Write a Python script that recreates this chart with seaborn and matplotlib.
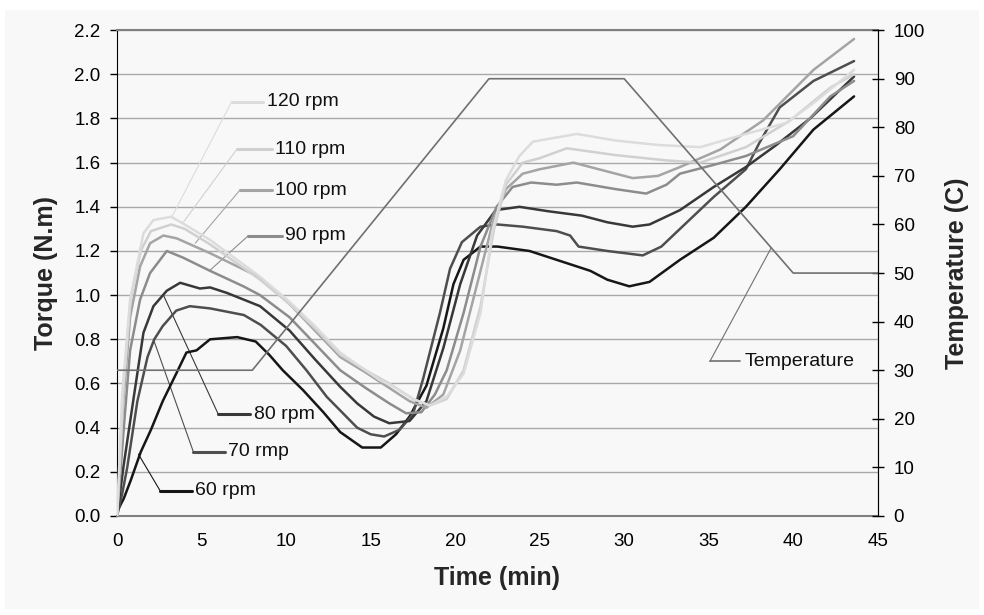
import numpy as np
import seaborn as sns
import matplotlib.pyplot as plt
from matplotlib.patches import Rectangle

# torque curves (time in min, torque in N.m)
t60 = [0, 0.4, 0.8, 1.4, 2.0, 2.7, 3.5, 4.1, 4.7, 5.5, 7.1, 8.2, 9.0, 9.8, 11.0, 12.2, 13.2, 14.5, 15.6, 16.5,
       17.3, 18.3, 19.3, 19.9, 20.5, 21.5, 22.5, 24.4, 26.0, 28.0, 29.0, 30.3, 31.5, 33.3, 35.3, 37.2, 39.2, 41.2, 43.6]
tq60 = [0.02, 0.08, 0.16, 0.29, 0.39, 0.52, 0.645, 0.74, 0.75, 0.80, 0.81, 0.79, 0.73, 0.66, 0.57, 0.47, 0.38, 0.31, 0.31, 0.37,
        0.45, 0.59, 0.85, 1.05, 1.16, 1.22, 1.22, 1.20, 1.16, 1.11, 1.07, 1.04, 1.06, 1.16, 1.26, 1.40, 1.57, 1.75, 1.90]

t70 = [0, 0.3, 0.6, 1.2, 1.8, 2.2, 2.7, 3.5, 4.3, 5.5, 7.5, 8.5, 10.0, 11.2, 12.4, 13.3, 14.2, 15.0, 15.8, 16.7,
       17.5, 18.1, 19.1, 19.7, 20.4, 21.5, 22.5, 24.0, 26.0, 26.8, 27.3, 29.0, 31.1, 32.2, 33.3, 35.3, 37.2, 38.0, 39.2, 41.2, 43.6]
tq70 = [0.0, 0.10, 0.22, 0.52, 0.72, 0.80, 0.86, 0.93, 0.95, 0.94, 0.91, 0.865, 0.77, 0.66, 0.54, 0.47, 0.40, 0.37, 0.36, 0.39,
        0.46, 0.62, 0.92, 1.12, 1.24, 1.31, 1.32, 1.31, 1.29, 1.27, 1.22, 1.20, 1.18, 1.22, 1.30, 1.445, 1.57, 1.69, 1.85, 1.97, 2.06]

t80 = [0, 0.37, 0.96, 1.56, 2.15, 2.94, 3.73, 4.9, 5.5, 6.5, 8.46, 10.2, 11.7, 13.2, 14.2, 15.2, 16.1, 17.3, 18.3, 19.3,
       20.3, 21.3, 22.4, 23.8, 25.5, 27.5, 29.0, 30.5, 31.5, 33.3, 35.3, 37.2, 39.0, 41.0, 43.6]
tq80 = [0.0, 0.22, 0.525, 0.83, 0.95, 1.02, 1.056, 1.03, 1.035, 1.01, 0.95, 0.84, 0.71, 0.585, 0.51, 0.45, 0.42, 0.43, 0.52, 0.76,
        1.05, 1.27, 1.385, 1.40, 1.38, 1.36, 1.33, 1.31, 1.32, 1.385, 1.49, 1.58, 1.68, 1.80, 1.99]

t90 = [0, 0.37, 0.77, 1.36, 1.95, 2.94, 3.9, 5.5, 7.47, 8.46, 10.2, 11.7, 13.2, 14.7, 16.1, 17.1, 18.0, 18.8, 19.5, 20.5,
       21.5, 22.45, 23.4, 24.5, 26.0, 27.2, 29.5, 31.3, 32.5, 33.3, 35.3, 37.2, 40.0, 42.2, 43.6]
tq90 = [0.0, 0.375, 0.75, 0.98, 1.10, 1.20, 1.17, 1.11, 1.04, 1.0, 0.90, 0.78, 0.66, 0.58, 0.51, 0.465, 0.47, 0.55, 0.66, 0.92,
        1.22, 1.40, 1.49, 1.51, 1.50, 1.51, 1.48, 1.46, 1.50, 1.55, 1.59, 1.63, 1.72, 1.90, 1.97]

t100 = [0, 0.37, 0.77, 1.36, 1.95, 2.74, 3.53, 5.5, 8.46, 10.2, 11.7, 13.2, 14.7, 16.1, 17.3, 18.3, 19.3, 20.3, 21.3, 22.2,
        23.0, 24.0, 25.0, 27.0, 29.0, 30.5, 32.0, 33.3, 35.7, 38.2, 41.2, 43.6]
tq100 = [0.0, 0.52, 0.90, 1.13, 1.235, 1.27, 1.257, 1.19, 1.08, 0.96, 0.84, 0.72, 0.65, 0.58, 0.52, 0.49, 0.55, 0.75, 1.05, 1.32,
         1.48, 1.55, 1.57, 1.60, 1.56, 1.53, 1.54, 1.58, 1.66, 1.79, 2.02, 2.16]

t110 = [0, 0.4, 0.8, 1.4, 2.0, 3.2, 4.0, 5.5, 8.46, 10.2, 11.7, 13.2, 14.7, 16.1, 17.5, 18.5, 19.5, 20.5, 21.5, 22.3,
        23.0, 24.0, 25.0, 26.6, 29.5, 32.5, 34.5, 37.2, 39.8, 42.2, 43.6]
tq110 = [0.0, 0.60, 0.98, 1.20, 1.29, 1.32, 1.30, 1.23, 1.07, 0.96, 0.85, 0.73, 0.66, 0.60, 0.53, 0.50, 0.53, 0.66, 0.95, 1.30,
         1.50, 1.60, 1.62, 1.665, 1.634, 1.61, 1.60, 1.67, 1.79, 1.94, 2.0]

t120 = [0, 0.3, 0.77, 1.56, 2.15, 3.2, 4.0, 5.5, 8.46, 10.2, 11.7, 13.2, 14.5, 15.55, 16.5, 17.5, 18.5, 19.5, 20.5, 21.5,
        22.2, 23.0, 23.8, 24.6, 27.2, 29.5, 32.0, 34.5, 37.2, 39.6, 41.2, 43.6]
tq120 = [0.0, 0.55, 0.98, 1.28, 1.34, 1.355, 1.32, 1.25, 1.083, 0.97, 0.86, 0.74, 0.67, 0.615, 0.58, 0.53, 0.50, 0.54, 0.645, 0.92,
         1.29, 1.52, 1.63, 1.695, 1.73, 1.70, 1.68, 1.67, 1.73, 1.78, 1.87, 2.02]

# temperature profile (C)
temp_time = [0, 8, 22, 30, 40, 45]
temp_vals = [30, 30, 90, 90, 50, 50]

labels = ['60 rpm', '70 rmp', '80 rpm', '90 rpm', '100 rpm', '110 rpm', '120 rpm']
colors = ['#161616', '#4e4e4e', '#383838', '#8c8c8c', '#a4a4a4', '#d0d0d0', '#dcdcdc']
series = [(t60, tq60), (t70, tq70), (t80, tq80), (t90, tq90), (t100, tq100), (t110, tq110), (t120, tq120)]

# label placement: segment x0, x1, y, leader end (x, y)  -- in data coords of torque axis
label_pos = [(2.54, 4.42, 0.115, 1.26, 0.28),
             (4.51, 6.39, 0.291, 2.15, 0.80),
             (5.99, 7.87, 0.46, 2.74, 1.00),
             (7.76, 9.74, 1.269, 5.5, 1.113),
             (7.27, 9.15, 1.476, 4.62, 1.235),
             (7.08, 9.15, 1.66, 3.92, 1.33),
             (6.78, 8.65, 1.876, 3.24, 1.355)]

sns.set_style('white')
plt.rcParams['font.family'] = ['Liberation Sans', 'DejaVu Sans']

fig, ax = plt.subplots(figsize=(9.84, 6.15), dpi=100)
fig.patch.set_facecolor('white')
fig.patches.append(Rectangle((0.005, 0.01), 0.99, 0.973, transform=fig.transFigure,
                             facecolor='#f8f8f8', edgecolor='none', zorder=-10))
fig.subplots_adjust(left=0.119, right=0.892, bottom=0.161, top=0.951)
ax.set_facecolor('#f8f8f8')

for (tt, yy), c in zip(series, colors):
    sns.lineplot(x=tt, y=yy, ax=ax, color=c, linewidth=1.8, estimator=None, sort=False, zorder=3)

for (x0, x1, y, ex, ey), c, lab in zip(label_pos, colors, labels):
    ax.plot([x0, ex], [y, ey], color=c, lw=0.8, zorder=2)
    ax.plot([x0, x1], [y, y], color=c, lw=2.2, zorder=2)
    ax.text(x1 + 0.2, y, lab, fontsize=14, va='center', ha='left', color='#111111')

# temperature label (leader to temperature line)
ax.plot([35.07, 38.7], [0.70, 55.2 * 2.2 / 100], color='#707070', lw=0.8, zorder=2)
ax.plot([35.07, 36.84], [0.70, 0.70], color='#707070', lw=1.2, zorder=2)
ax.text(37.1, 0.70, 'Temperature', fontsize=14, va='center', ha='left', color='#111111')

ax.set_xlim(0, 45)
ax.set_ylim(0, 2.2)
ax.set_xticks(range(0, 46, 5))
ax.set_yticks(np.arange(0, 2.21, 0.2))
ax.set_yticklabels([f'{v:.1f}' for v in np.arange(0, 2.21, 0.2)])
ax.grid(axis='y', color='#a8a8a8', lw=1)
ax.set_axisbelow(True)
ax.tick_params(axis='both', direction='out', length=5, width=1, labelsize=13.5, pad=7, colors='black')
ax.set_xlabel('Time (min)', fontsize=18, fontweight='bold', labelpad=12)
ax.set_ylabel('Torque (N.m)', fontsize=18, fontweight='bold', labelpad=12)
for s in ['left']:
    ax.spines[s].set_color('black')
for s in ['top', 'bottom']:
    ax.spines[s].set_color('#808080')
    ax.spines[s].set_linewidth(1.5)

ax2 = ax.twinx()
sns.lineplot(x=temp_time, y=temp_vals, ax=ax2, color='#707070', linewidth=1.2, estimator=None, sort=False)
ax2.set_ylim(0, 100)
ax2.set_yticks(range(0, 101, 10))
ax2.tick_params(axis='y', direction='inout', length=9, width=1, labelsize=13.5, pad=7, colors='black')
ax2.set_ylabel('Temperature (C)', fontsize=18, fontweight='bold', labelpad=14)
ax2.spines['right'].set_color('black')
for s in ['top', 'bottom', 'left']:
    ax2.spines[s].set_visible(False)

plt.savefig('out.png', dpi=100, facecolor=fig.get_facecolor())
